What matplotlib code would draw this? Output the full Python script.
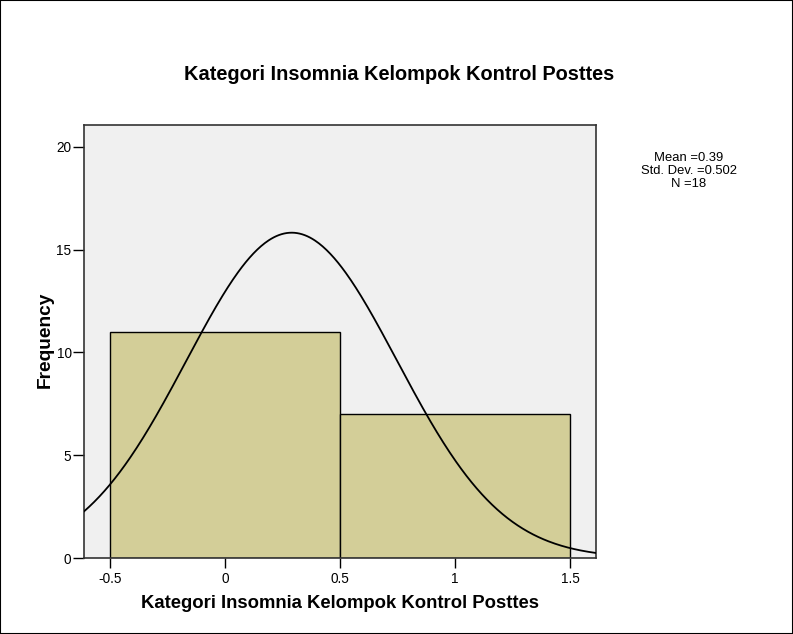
import numpy as np
import matplotlib
matplotlib.use("Agg")
import matplotlib.pyplot as plt
from matplotlib.patches import Rectangle

plt.rcParams['font.family'] = ['Liberation Sans', 'DejaVu Sans']

# Data
bin_centers = [0, 1]
counts = [11, 7]
bin_width = 1.0
x_ticks = [-0.5, 0, 0.5, 1, 1.5]
x_tick_labels = ['-0.5', '0', '0.5', '1', '1.5']
y_ticks = [0, 5, 10, 15, 20]
stats_text = "Mean =0.39\nStd. Dev. =0.502\nN =18"
title = "Kategori Insomnia Kelompok Kontrol Posttes"
xlabel = "Kategori Insomnia Kelompok Kontrol Posttes"
ylabel = "Frequency"

# fitted normal curve parameters (as drawn)
curve_center = 0.29
curve_sd = 0.458
curve_peak = 15.83

W, H = 793, 634
fig = plt.figure(figsize=(W / 100, H / 100), dpi=100)
fig.patch.set_facecolor('white')

left, right, top, bottom = 84, 596, 125, 558
ax = fig.add_axes([left / W, 1 - bottom / H, (right - left) / W, (bottom - top) / H])
ax.set_facecolor('#F0F0F0')

ax.bar(bin_centers, counts, width=bin_width, align='center',
       color='#D3CE98', edgecolor='black', linewidth=1.0, zorder=2)

xlim = (-0.613, 1.613)
xs = np.linspace(xlim[0], xlim[1], 400)
ys = curve_peak * np.exp(-(xs - curve_center) ** 2 / (2 * curve_sd ** 2))
ax.plot(xs, ys, color='black', linewidth=1.3, zorder=3)

ax.set_xlim(*xlim)
ax.set_ylim(0, 21.07)
ax.set_xticks(x_ticks)
ax.set_xticklabels(x_tick_labels)
ax.set_yticks(y_ticks)
ax.tick_params(axis='both', direction='out', labelsize=9.8, color='black')
ax.tick_params(axis='y', length=8, width=1, pad=1)
ax.tick_params(axis='x', length=7, width=1, pad=3)
for s in ax.spines.values():
    s.set_color('#333333')
    s.set_linewidth(1.2)

fig.text(399 / W, 1 - 74 / H, title, ha='center', va='center',
         fontsize=14.4, fontweight='bold')
fig.text(340 / W, 1 - 604 / H, xlabel, ha='center', va='center',
         fontsize=13.3, fontweight='bold')
fig.text(45 / W, 1 - 340 / H, ylabel, ha='center', va='center',
         fontsize=13.8, fontweight='bold', rotation=90)
fig.text(689 / W, 1 - 171 / H, stats_text, ha='center', va='center',
         fontsize=9.4, linespacing=1.13)

# outer border
fig.patches.append(Rectangle((0, 0), 1, 1, transform=fig.transFigure,
                             fill=False, edgecolor='black', linewidth=1.5))

fig.savefig('out.png', dpi=100)
